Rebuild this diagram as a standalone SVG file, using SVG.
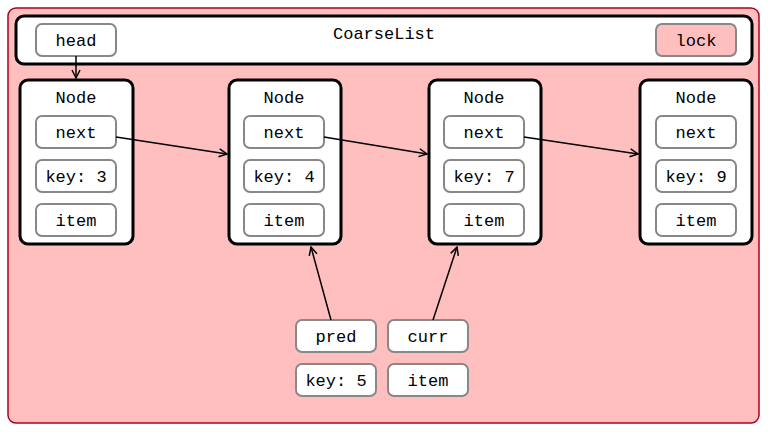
<svg xmlns="http://www.w3.org/2000/svg" width="768" height="432" viewBox="0 0 768 432">
<style>
text{font-family:"Liberation Mono","Courier New",monospace;font-size:17px;fill:#000;text-anchor:middle;dominant-baseline:central}
.node{fill:#fff;stroke:#000;stroke-width:3}
.field{fill:#fff;stroke:#888;stroke-width:2}
.conn{stroke:#000;stroke-width:1.5;fill:none;marker-end:url(#arr)}
</style>
<defs>
<marker id="arr" viewBox="0 0 10 10" refX="9" refY="5" markerWidth="10" markerHeight="10" markerUnits="userSpaceOnUse" orient="auto">
<path d="M1,1 L9,5 L1,9" fill="none" stroke="#000" stroke-width="1.5"/>
</marker>
</defs>
<rect x="8" y="8" width="751" height="415" rx="8" fill="#ffbfbf" stroke="#b00020" stroke-width="1.5"/>
<g id="coarselist">
<rect class="node" x="16" y="16" width="736" height="48" rx="8"/>
<text x="384" y="34">CoarseList</text>
</g>
<g id="head"><rect class="field" x="36" y="24" width="80" height="32" rx="6"/><text x="76" y="41">head</text></g>
<g id="lock"><rect class="field" x="656" y="24" width="80" height="32" rx="6" style="fill:#ffbfbf"/><text x="696" y="41">lock</text></g>
<g id="node1">
<rect class="node" x="20" y="80" width="113" height="164" rx="8"/>
<text x="76" y="98">Node</text>
<rect class="field" x="36" y="116" width="80" height="32" rx="6"/><text x="76" y="133">next</text>
<rect class="field" x="36" y="160" width="80" height="32" rx="6"/><text x="76" y="177">key: 3</text>
<rect class="field" x="36" y="204" width="80" height="32" rx="6"/><text x="76" y="221">item</text>
</g>
<g id="node2">
<rect class="node" x="229" y="80" width="112" height="164" rx="8"/>
<text x="284" y="98">Node</text>
<rect class="field" x="244" y="116" width="80" height="32" rx="6"/><text x="284" y="133">next</text>
<rect class="field" x="244" y="160" width="80" height="32" rx="6"/><text x="284" y="177">key: 4</text>
<rect class="field" x="244" y="204" width="80" height="32" rx="6"/><text x="284" y="221">item</text>
</g>
<g id="node3">
<rect class="node" x="429" y="80" width="112" height="164" rx="8"/>
<text x="484" y="98">Node</text>
<rect class="field" x="444" y="116" width="80" height="32" rx="6"/><text x="484" y="133">next</text>
<rect class="field" x="444" y="160" width="80" height="32" rx="6"/><text x="484" y="177">key: 7</text>
<rect class="field" x="444" y="204" width="80" height="32" rx="6"/><text x="484" y="221">item</text>
</g>
<g id="node4">
<rect class="node" x="640" y="80" width="112" height="164" rx="8"/>
<text x="696" y="98">Node</text>
<rect class="field" x="656" y="116" width="80" height="32" rx="6"/><text x="696" y="133">next</text>
<rect class="field" x="656" y="160" width="80" height="32" rx="6"/><text x="696" y="177">key: 9</text>
<rect class="field" x="656" y="204" width="80" height="32" rx="6"/><text x="696" y="221">item</text>
</g>
<g id="pred">
<rect class="field" x="296" y="320" width="80" height="32" rx="6"/><text x="336" y="337">pred</text>
<rect class="field" x="296" y="364" width="80" height="32" rx="6"/><text x="336" y="381">key: 5</text>
</g>
<g id="curr">
<rect class="field" x="388" y="320" width="80" height="32" rx="6"/><text x="428" y="337">curr</text>
<rect class="field" x="388" y="364" width="80" height="32" rx="6"/><text x="428" y="381">item</text>
</g>
<g id="connectors">
<line class="conn" x1="76" y1="56" x2="76" y2="78"/>
<line class="conn" x1="116" y1="137" x2="227" y2="154"/>
<line class="conn" x1="324" y1="137" x2="427" y2="154"/>
<line class="conn" x1="524" y1="137" x2="638" y2="154"/>
<line class="conn" x1="331" y1="320" x2="311" y2="247"/>
<line class="conn" x1="433" y1="320" x2="457" y2="247"/>
</g>
</svg>
